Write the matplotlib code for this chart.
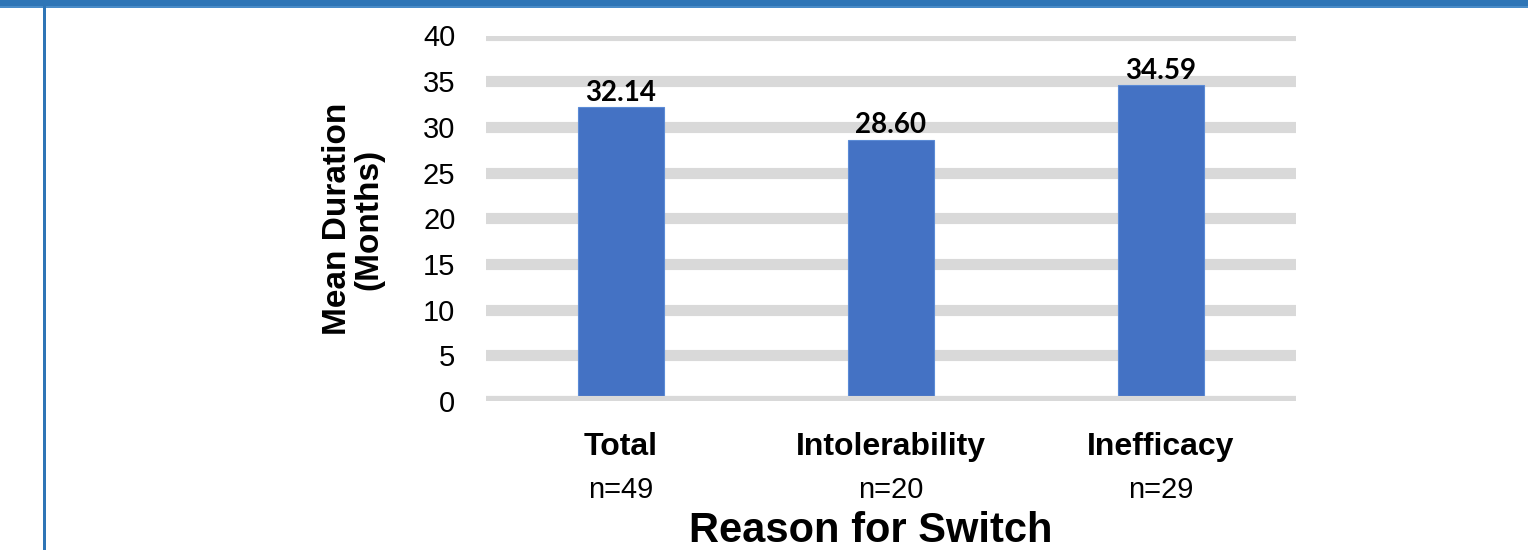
import matplotlib as mpl
import matplotlib.pyplot as plt
from matplotlib.patches import Rectangle

# ---- data ----
reasons = ['Total', 'Intolerability', 'Inefficacy']
n_labels = ['n=49', 'n=20', 'n=29']
mean_months = [32.14, 28.60, 34.59]
yticks = [0, 5, 10, 15, 20, 25, 30, 35, 40]

# ---- style ----
mpl.rcParams['font.family'] = ['Liberation Sans', 'DejaVu Sans']
bar_col = '#4472C4'
grid_col = '#D9D9D9'
frame_col = '#2E75B6'

fig = plt.figure(figsize=(15.28, 5.5), dpi=100)
ax = fig.add_axes([486/1528, 1 - 401/550, 810/1528, (401 - 35.5)/550])

x = range(len(reasons))
bars = ax.bar(x, mean_months, width=0.32, color=bar_col,
              edgecolor='#5B8BD6', linewidth=0.8, zorder=2)

for b, v in zip(bars, mean_months):
    ax.annotate(f'{v:.2f}', (b.get_x() + b.get_width()/2, v),
                xytext=(0, 1), textcoords='offset points',
                ha='center', va='bottom', fontsize=20, fontweight='bold',
                family=['Lato', 'DejaVu Sans'], color='black', zorder=4)

# grid as thick grey bands
ax.set_axisbelow(True)
ax.yaxis.grid(True, color=grid_col, linewidth=8)
ax.axhline(0, color=grid_col, linewidth=8, zorder=3)

ax.set_xlim(-0.5, 2.5)
ax.set_ylim(0, 40)
ax.set_yticks(yticks)
ax.set_yticklabels([str(t) for t in yticks], fontsize=21)
ax.set_xticks([])
ax.tick_params(axis='y', length=0, pad=22)
for s in ax.spines.values():
    s.set_visible(False)

# category labels (bold name + n)
trans = ax.get_xaxis_transform()
for i, (r, n) in enumerate(zip(reasons, n_labels)):
    ax.text(i, -46/365.5, r, transform=trans, ha='center', va='center',
            fontsize=23, fontweight='bold')
    ax.text(i, -89/365.5, n, transform=trans, ha='center', va='center',
            fontsize=21)

fig.text(871/1528, 8/550, 'Reason for Switch', ha='center', va='baseline',
         fontsize=30, fontweight='bold')
fig.text(353/1528, 1 - 219/550, 'Mean Duration\n(Months)', rotation=90,
         ha='center', va='center', fontsize=24, fontweight='bold',
         linespacing=1.0)

# frame pieces: top banner and left border
fig.add_artist(Rectangle((0, 1 - 6/550), 1, 6/550, transform=fig.transFigure,
                         color=frame_col, lw=0))
fig.add_artist(Rectangle((0, 1 - 8/550), 1, 2/550, transform=fig.transFigure,
                         color='#4A8CC8', lw=0))
fig.add_artist(Rectangle((43/1528, 0), 3/1528, 1, transform=fig.transFigure,
                         color=frame_col, lw=0))

fig.savefig('out.png', dpi=100)
